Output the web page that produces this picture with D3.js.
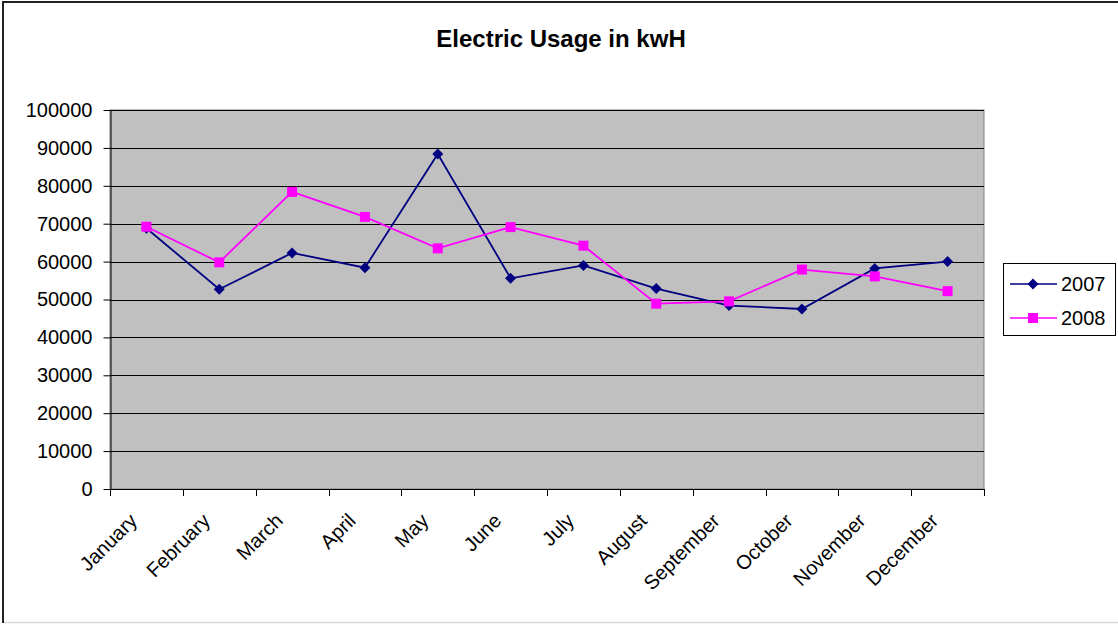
<!DOCTYPE html>
<html>
<head>
<meta charset="utf-8">
<script src="https://cdn.jsdelivr.net/npm/d3@7"></script>
<style>
  html, body { margin: 0; padding: 0; background: #fff; }
  svg { display: block; font-family: "Liberation Sans", Arial, sans-serif; }
</style>
</head>
<body>
<svg id="chart" width="1118" height="624"></svg>
<script>
// Monthly electric usage (kWh)
const months = ["January", "February", "March", "April", "May", "June",
                "July", "August", "September", "October", "November", "December"];
const usage2007 = [68800, 52700, 62300, 58400, 88400, 55600, 59000, 52900, 48400, 47500, 58200, 60000];
const usage2008 = [69200, 59800, 78400, 71800, 63500, 69100, 64200, 48900, 49500, 57900, 56100, 52200];
const yTicks = [0, 10000, 20000, 30000, 40000, 50000, 60000, 70000, 80000, 90000, 100000];
const seriesNames = ["2007", "2008"];

const W = 1118, H = 624;
const plot = { left: 110, top: 110, right: 984, bottom: 489 };

const svg = d3.select("#chart");

// outer chart frame: dark left/top edges, light bottom edge
svg.append("line").attr("x1", 3).attr("x2", 3).attr("y1", 2).attr("y2", 623)
  .attr("stroke", "#222").attr("stroke-width", 2);
svg.append("line").attr("x1", 2).attr("x2", W).attr("y1", 2).attr("y2", 2)
  .attr("stroke", "#222").attr("stroke-width", 2);
svg.append("line").attr("x1", 4).attr("x2", W).attr("y1", 622.5).attr("y2", 622.5)
  .attr("stroke", "#d8d8d8").attr("stroke-width", 1.5);

// title
svg.append("text")
  .attr("x", 561).attr("y", 47)
  .attr("text-anchor", "middle")
  .attr("font-size", 24).attr("font-weight", "bold")
  .text("Electric Usage in kwH");

const x = d3.scaleBand().domain(months).range([plot.left, plot.right]).padding(0);
const y = d3.scaleLinear().domain([0, 100000]).range([plot.bottom, plot.top]);

// plot background
svg.append("rect")
  .attr("x", plot.left).attr("y", plot.top)
  .attr("width", plot.right - plot.left).attr("height", plot.bottom - plot.top)
  .attr("fill", "#c0c0c0").attr("stroke", "#808080").attr("stroke-width", 1);

// horizontal gridlines
svg.append("g").selectAll("line")
  .data(yTicks.filter(d => d > 0))
  .join("line")
  .attr("x1", plot.left).attr("x2", plot.right)
  .attr("y1", d => Math.round(y(d)) + 0.5).attr("y2", d => Math.round(y(d)) + 0.5)
  .attr("stroke", "#000").attr("stroke-width", 1);

// y axis
const yAxis = svg.append("g")
  .attr("transform", `translate(${plot.left + 0.5},0)`)
  .call(d3.axisLeft(y).tickValues(yTicks).tickFormat(d3.format("d")).tickSize(7).tickSizeOuter(0));
yAxis.select(".domain").attr("stroke", "#000");
yAxis.selectAll(".tick line").attr("stroke", "#000");
yAxis.selectAll(".tick text")
  .attr("font-size", 20).attr("fill", "#000").attr("x", -18)
  .attr("font-family", "Liberation Sans, Arial, sans-serif");

// x axis (ticks at category boundaries)
const boundaries = months.map(m => x(m)).concat([plot.right]);
const xg = svg.append("g");
xg.append("line")
  .attr("x1", plot.left).attr("x2", plot.right)
  .attr("y1", plot.bottom + 0.5).attr("y2", plot.bottom + 0.5)
  .attr("stroke", "#000");
xg.selectAll("line.tk")
  .data(boundaries)
  .join("line")
  .attr("class", "tk")
  .attr("x1", d => Math.round(d) + 0.5).attr("x2", d => Math.round(d) + 0.5)
  .attr("y1", plot.bottom).attr("y2", plot.bottom + 7)
  .attr("stroke", "#000");

// rotated month labels
xg.selectAll("text")
  .data(months)
  .join("text")
  .attr("transform", d => `translate(${x(d) + x.bandwidth() / 2 - 8},${plot.bottom + 33}) rotate(-45)`)
  .attr("text-anchor", "end")
  .attr("font-size", 20)
  .text(d => d);

const cx = m => x(m) + x.bandwidth() / 2;
const line = d3.line().x((d, i) => cx(months[i])).y(d => y(d));

const colors = { "2007": "#000080", "2008": "#ff00ff" };
const data = { "2007": usage2007, "2008": usage2008 };

const diamond = s => `M0,${-s}L${s},0L0,${s}L${-s},0Z`;

// draw series (2007 first, 2008 on top)
seriesNames.forEach(name => {
  const vals = data[name];
  svg.append("path")
    .datum(vals)
    .attr("fill", "none")
    .attr("stroke", colors[name])
    .attr("stroke-width", 1.8)
    .attr("d", line);
  const g = svg.append("g");
  if (name === "2007") {
    g.selectAll("path").data(vals).join("path")
      .attr("transform", (d, i) => `translate(${cx(months[i])},${y(d)})`)
      .attr("d", diamond(5.5))
      .attr("fill", colors[name]);
  } else {
    g.selectAll("rect").data(vals).join("rect")
      .attr("x", (d, i) => cx(months[i]) - 5)
      .attr("y", d => y(d) - 5)
      .attr("width", 10).attr("height", 10)
      .attr("fill", colors[name]);
  }
});

// legend
const lg = svg.append("g");
lg.append("rect")
  .attr("x", 1003.5).attr("y", 263.5).attr("width", 112).attr("height", 72)
  .attr("fill", "#fff").attr("stroke", "#000");
seriesNames.forEach((name, i) => {
  const ly = 284 + i * 34;
  lg.append("line")
    .attr("x1", 1010).attr("x2", 1057).attr("y1", ly).attr("y2", ly)
    .attr("stroke", colors[name]).attr("stroke-width", 1.6);
  if (name === "2007") {
    lg.append("path").attr("transform", `translate(1033,${ly})`).attr("d", diamond(5.5)).attr("fill", colors[name]);
  } else {
    lg.append("rect").attr("x", 1028).attr("y", ly - 5).attr("width", 10).attr("height", 10).attr("fill", colors[name]);
  }
  lg.append("text")
    .attr("x", 1061).attr("y", ly).attr("dy", "0.36em")
    .attr("font-size", 20)
    .text(name);
});
</script>
</body>
</html>
